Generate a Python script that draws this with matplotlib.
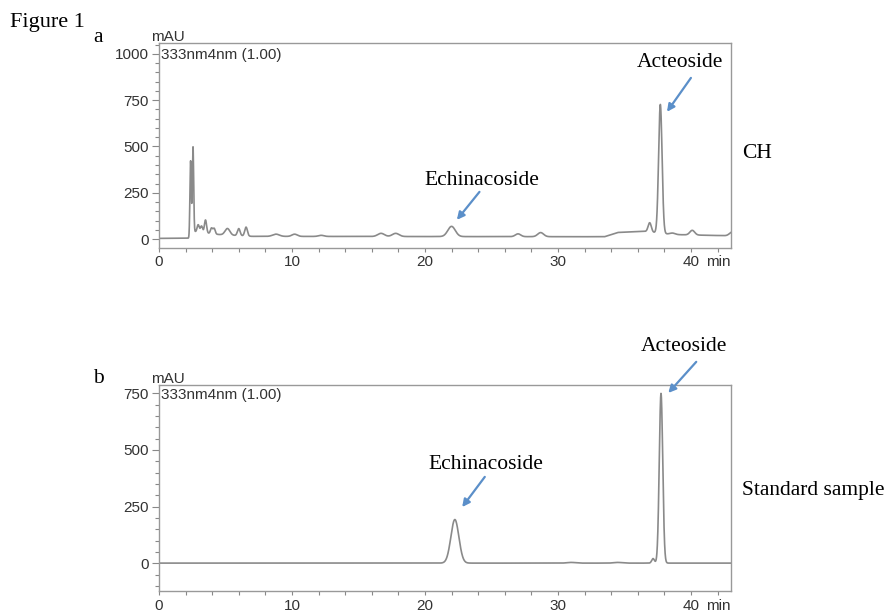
import numpy as np
import matplotlib
matplotlib.use("Agg")
import matplotlib.pyplot as plt
from matplotlib.ticker import MultipleLocator

# retention time (min), peak height (mAU), peak sigma (min)
ch_rt = [2.38, 2.56, 2.95, 3.20, 3.50, 3.95, 4.15, 5.15, 6.00, 6.55, 8.8, 10.2, 12.2,
         16.7, 17.8, 22.0, 27.0, 28.7, 36.9, 37.7, 38.6, 40.1, 43.1]
ch_height = [410, 470, 40, 35, 70, 30, 30, 35, 38, 48, 12, 12, 6,
             17, 17, 55, 15, 22, 50, 695, 8, 25, 20]
ch_sigma = [0.05, 0.05, 0.08, 0.08, 0.08, 0.08, 0.08, 0.18, 0.10, 0.10, 0.25, 0.2, 0.2,
            0.25, 0.25, 0.28, 0.2, 0.22, 0.12, 0.13, 0.2, 0.18, 0.2]
ch_base_t = [0, 2.3, 2.7, 4.5, 7.0, 33.5, 34.5, 36.5, 38.5, 43.0]
ch_base_v = [4, 5, 40, 25, 15, 13, 36, 42, 25, 18]

std_rt = [22.25, 31.0, 34.5, 37.15, 37.75]
std_height = [192, 3, 3, 20, 748]
std_sigma = [0.30, 0.3, 0.3, 0.10, 0.13]
std_base_t = [0, 43.0]
std_base_v = [1, 1]

panels = ["a", "b"]
samples = ["CH", "Standard sample"]


def trace(t, rt, height, sigma, bt, bv):
    y = np.interp(t, bt, bv)
    for r, h, s in zip(rt, height, sigma):
        y = y + h * np.exp(-(t - r) ** 2 / (2 * s ** 2))
    return y


t = np.linspace(0, 43, 8000)
sig_ch = trace(t, ch_rt, ch_height, ch_sigma, ch_base_t, ch_base_v)
sig_std = trace(t, std_rt, std_height, std_sigma, std_base_t, std_base_v)

plt.rcParams['font.family'] = ['Liberation Sans', 'DejaVu Sans']
serif = 'Liberation Serif'
gray = '#8a8a8a'
blue = '#5b8fc9'
fs = 11

fig = plt.figure(figsize=(8.88, 6.15), dpi=100)
ax1 = fig.add_axes([0.179, 0.597, 0.644, 0.333])
ax2 = fig.add_axes([0.179, 0.039, 0.644, 0.335])


def style(ax, ylim, yticks):
    ax.set_xlim(0, 43)
    ax.set_ylim(*ylim)
    ax.set_yticks(yticks)
    ax.set_xticks([0, 10, 20, 30, 40])
    ax.xaxis.set_minor_locator(MultipleLocator(2))
    ax.yaxis.set_minor_locator(MultipleLocator(50))
    for sp in ax.spines.values():
        sp.set_color('#999999')
        sp.set_linewidth(1.0)
    ax.tick_params(axis='y', which='major', length=5, width=0.8, color='#888888',
                   labelsize=fs, labelcolor='#333333', pad=2.5)
    ax.tick_params(axis='y', which='minor', length=3, width=0.8, color='#888888')
    ax.tick_params(axis='x', which='both', length=3, width=0.8, color='#888888',
                   labelsize=fs, labelcolor='#333333', pad=2.5)
    ax.annotate('min', xy=(41.1, 0), xycoords=('data', 'axes fraction'),
                xytext=(0, -7.5), textcoords='offset pixels', va='top', ha='left',
                fontsize=fs, color='#333333')


ax1.plot(t, sig_ch, color=gray, lw=1.2)
style(ax1, (-47, 1058), [0, 250, 500, 750, 1000])
ax2.plot(t, sig_std, color=gray, lw=1.2)
style(ax2, (-122, 786), [0, 250, 500, 750])

arrow = dict(arrowstyle='-|>', color=blue, lw=1.6, mutation_scale=11, shrinkA=0, shrinkB=0)
ax1.text(24.3, 318, 'Echinacoside', family=serif, fontsize=15.5, ha='center', va='center')
ax1.annotate('', xy=(22.4, 104), xytext=(24.1, 255), arrowprops=arrow)
ax1.text(39.2, 951, 'Acteoside', family=serif, fontsize=15.5, ha='center', va='center')
ax1.annotate('', xy=(38.2, 687), xytext=(40.0, 870), arrowprops=arrow)

ax2.text(24.6, 434, 'Echinacoside', family=serif, fontsize=15.5, ha='center', va='center')
ax2.annotate('', xy=(22.8, 248), xytext=(24.5, 381), arrowprops=arrow)
ax2.text(39.5, 954, 'Acteoside', family=serif, fontsize=15.5, ha='center', va='center',
         clip_on=False)
ax2.annotate('', xy=(38.3, 751), xytext=(40.4, 888), arrowprops=arrow,
             annotation_clip=False)

fig.text(0.011, 0.964, 'Figure 1', family=serif, fontsize=16, va='center')
fig.text(0.105, 0.939, panels[0], family=serif, fontsize=15.5, va='center')
fig.text(0.105, 0.385, panels[1], family=serif, fontsize=15.5, va='center')
fig.text(0.836, 0.750, samples[0], family=serif, fontsize=15.5, va='center')
fig.text(0.836, 0.202, samples[1], family=serif, fontsize=15.5, va='center')

for yb, yl in [(41, 59), (383, 399)]:
    fig.text(151 / 888, 1 - yb / 615, 'mAU', fontsize=fs, color='#333333', va='baseline')
    fig.text(161 / 888, 1 - yl / 615, '333nm4nm (1.00)', fontsize=fs, color='#333333',
             va='baseline')

fig.savefig('out.png', dpi=100)
